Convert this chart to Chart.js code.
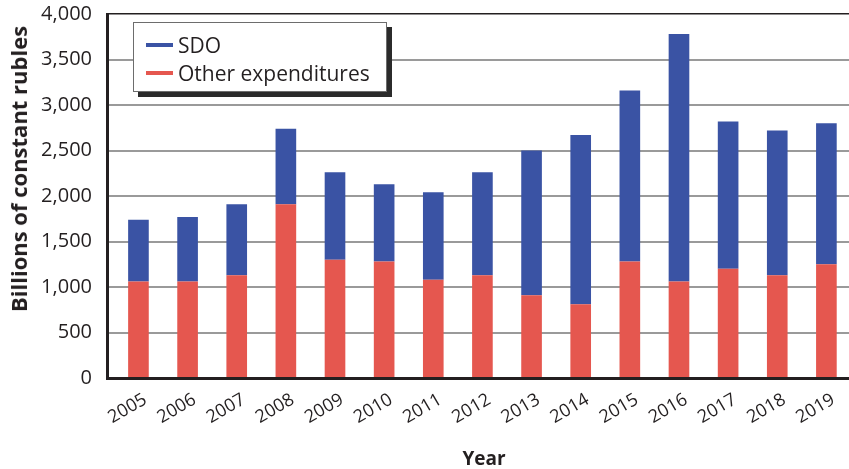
<!DOCTYPE html>
<html>
<head>
<meta charset="utf-8">
<script src="https://cdn.jsdelivr.net/npm/chart.js@4"></script>
<style>
  body { margin: 0; background: #fff; }
  #wrap { position: relative; width: 849px; height: 469px; font-family: "Open Sans", sans-serif; color: #231f20; }
  #legend {
    position: absolute; left: 133px; top: 22px; width: 252px; height: 68px;
    background: #fff; border: 1px solid #6d6d6d; box-shadow: 5px 5px 0 #2b2b2b;
    font-size: 21px;
  }
  .item { position: absolute; left: 12px; height: 28px; line-height: 28px; }
  .item span.sw { position: absolute; left: 0; top: 12px; width: 27px; height: 4px; }
  .item span.tx { position: absolute; left: 32px; white-space: nowrap; }
  #ytitle {
    position: absolute; left: 18px; top: 169px; font-weight: bold; font-size: 22px;
    white-space: nowrap; transform: translate(-50%, -50%) rotate(-90deg);
  }
  #xtitle { position: absolute; left: 484px; top: 458px; font-weight: bold; font-size: 19px; transform: translate(-50%, -50%); }
</style>
</head>
<body>
<div id="wrap">
  <canvas id="chart" width="849" height="469"></canvas>
  <div id="legend">
    <div class="item" style="top:8px"><span class="sw" style="background:#3a53a4"></span><span class="tx">SDO</span></div>
    <div class="item" style="top:36px"><span class="sw" style="background:#e5574f"></span><span class="tx">Other expenditures</span></div>
  </div>
  <div id="ytitle">Billions of constant rubles</div>
  <div id="xtitle">Year</div>
</div>
<script>
const years = [2005, 2006, 2007, 2008, 2009, 2010, 2011, 2012, 2013, 2014, 2015, 2016, 2017, 2018, 2019];
const otherExp = [1060, 1060, 1130, 1910, 1300, 1280, 1080, 1130, 910, 810, 1280, 1060, 1200, 1130, 1250];
const sdo = [680, 710, 780, 830, 960, 850, 960, 1130, 1590, 1860, 1880, 2720, 1620, 1590, 1550];
const yTicks = [0, 500, 1000, 1500, 2000, 2500, 3000, 3500, 4000];

const ink = '#231f20';

new Chart(document.getElementById('chart'), {
  type: 'bar',
  data: {
    datasets: [
      {
        label: 'Other expenditures',
        data: years.map((y, i) => ({ x: y, y: otherExp[i] })),
        backgroundColor: '#e5574f'
      },
      {
        label: 'SDO',
        data: years.map((y, i) => ({ x: y, y: sdo[i] })),
        backgroundColor: '#3a53a4'
      }
    ]
  },
  options: {
    responsive: false,
    devicePixelRatio: 1,
    animation: false,
    layout: { padding: { top: 14, right: 0, left: 0, bottom: 0 } },
    datasets: { bar: { barPercentage: 1, categoryPercentage: 0.42 } },
    plugins: { legend: { display: false }, tooltip: { enabled: false } },
    scales: {
      x: {
        type: 'linear',
        stacked: true,
        offset: false,
        min: 2004.36,
        max: 2019.46,
        grid: { display: false },
        border: { color: ink, width: 3 },
        afterFit(scale) {
          scale.height = 91;
          scale.paddingLeft = 0;
          scale.paddingRight = 0;
        },
        afterBuildTicks(scale) { scale.ticks = years.map(v => ({ value: v })); },
        ticks: {
          autoSkip: false,
          minRotation: 30,
          maxRotation: 30,
          padding: 3,
          labelOffset: 7,
          color: ink,
          font: { family: 'Open Sans', size: 18 },
          callback: v => String(v)
        }
      },
      y: {
        stacked: true,
        min: 0,
        max: 4000,
        afterFit(scale) {
          scale.width = 107;
          scale.paddingTop = 0;
          scale.paddingBottom = 0;
        },
        afterBuildTicks(scale) { scale.ticks = yTicks.map(v => ({ value: v })); },
        border: { color: ink, width: 3 },
        grid: {
          drawTicks: false,
          color: ctx => (ctx.tick && ctx.tick.value === 4000 ? ink : '#9a9a9a'),
          lineWidth: ctx => (ctx.tick && ctx.tick.value === 4000 ? 1.5 : 2)
        },
        ticks: {
          padding: 15,
          color: ink,
          font: { family: 'Open Sans', size: 20 },
          callback: v => v.toLocaleString('en-US')
        }
      }
    }
  }
});
</script>
</body>
</html>
